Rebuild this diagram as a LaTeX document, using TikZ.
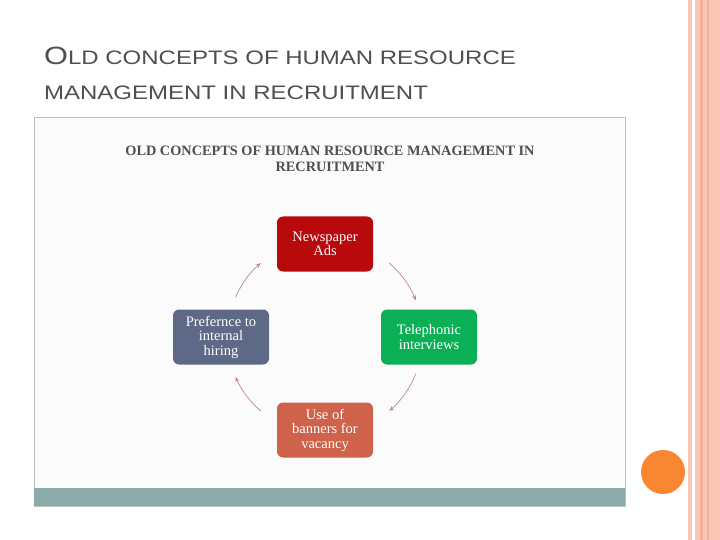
\documentclass[tikz,border=0pt]{standalone}
\usepackage{fontspec}
\setmainfont{Liberation Serif}
\newfontfamily\hsans[FakeStretch=1.23]{Liberation Sans}
\usetikzlibrary{arrows.meta,calc}
\definecolor{stripeA}{HTML}{F9C7B5}
\definecolor{stripeB}{HTML}{F4B09A}
\definecolor{titlegray}{HTML}{4F4F4F}
\definecolor{boxred}{HTML}{B80A0C}
\definecolor{boxgreen}{HTML}{0BAF55}
\definecolor{boxorange}{HTML}{CF624A}
\definecolor{boxslate}{HTML}{5D6987}
\definecolor{arrowc}{HTML}{C08A84}
\definecolor{tealbar}{HTML}{8AABA9}
\definecolor{dot}{HTML}{F98732}
\tikzset{
  stepbox/.style={rounded corners=6pt, minimum width=96pt, minimum height=55pt, text=white, align=center, font=\fontsize{14.5}{14.5}\selectfont, inner sep=1pt},
  cyc/.style={draw=arrowc, line width=0.7pt, -{Stealth[length=5pt,width=4pt]}}
}
\begin{document}
\begin{tikzpicture}[x=1pt,y=-1pt]
\useasboundingbox (0,0) rectangle (720,540);
\fill[white] (0,0) rectangle (720,540);
% right stripes
\fill[stripeA] (688,0) rectangle (692,540);
\fill[stripeA] (695,0) rectangle (720,540);
\fill[stripeB] (700,0) rectangle (703,540);
\fill[stripeB] (707,0) rectangle (709,540);
\fill[dot] (663,472) circle (22);
% slide title
\node[anchor=base west, text=titlegray, font=\hsans\fontsize{19.5}{19.5}\selectfont, inner sep=0] (t1) at (44,65) {{\fontsize{25}{25}\selectfont O}LD CONCEPTS OF HUMAN RESOURCE};
\node[anchor=base west, text=titlegray, font=\hsans\fontsize{19.5}{19.5}\selectfont, inner sep=0] (t2) at (44,100) {MANAGEMENT IN RECRUITMENT};
% image frame
\fill[white!97!gray] (34,117) rectangle (625,506);
\draw[gray!50, line width=0.8pt] (34,117) rectangle (625,506);
\fill[tealbar] (34,488) rectangle (625,506);
\node[text=titlegray, font=\bfseries\fontsize{14.3}{16}\selectfont, align=center] (it) at (330,159) {OLD CONCEPTS OF HUMAN RESOURCE MANAGEMENT IN\\RECRUITMENT};
% boxes
\node[stepbox, fill=boxred] (n) at (325,244) {Newspaper\\Ads};
\node[stepbox, fill=boxgreen] (t) at (429,337) {Telephonic\\interviews};
\node[stepbox, fill=boxorange] (b) at (325,430) {Use of\\banners for\\vacancy};
\node[stepbox, fill=boxslate] (p) at (221,337) {Prefernce to\\internal\\hiring};
\coordinate (c) at (325,337);
\draw[cyc] ($(c)+(-49:98)$) arc[start angle=-49, end angle=-22, radius=98];
\draw[cyc] ($(c)+(22:98)$) arc[start angle=22, end angle=49, radius=98];
\draw[cyc] ($(c)+(131:98)$) arc[start angle=131, end angle=156, radius=98];
\draw[cyc] ($(c)+(204:98)$) arc[start angle=204, end angle=229, radius=98];
\end{tikzpicture}
\end{document}
